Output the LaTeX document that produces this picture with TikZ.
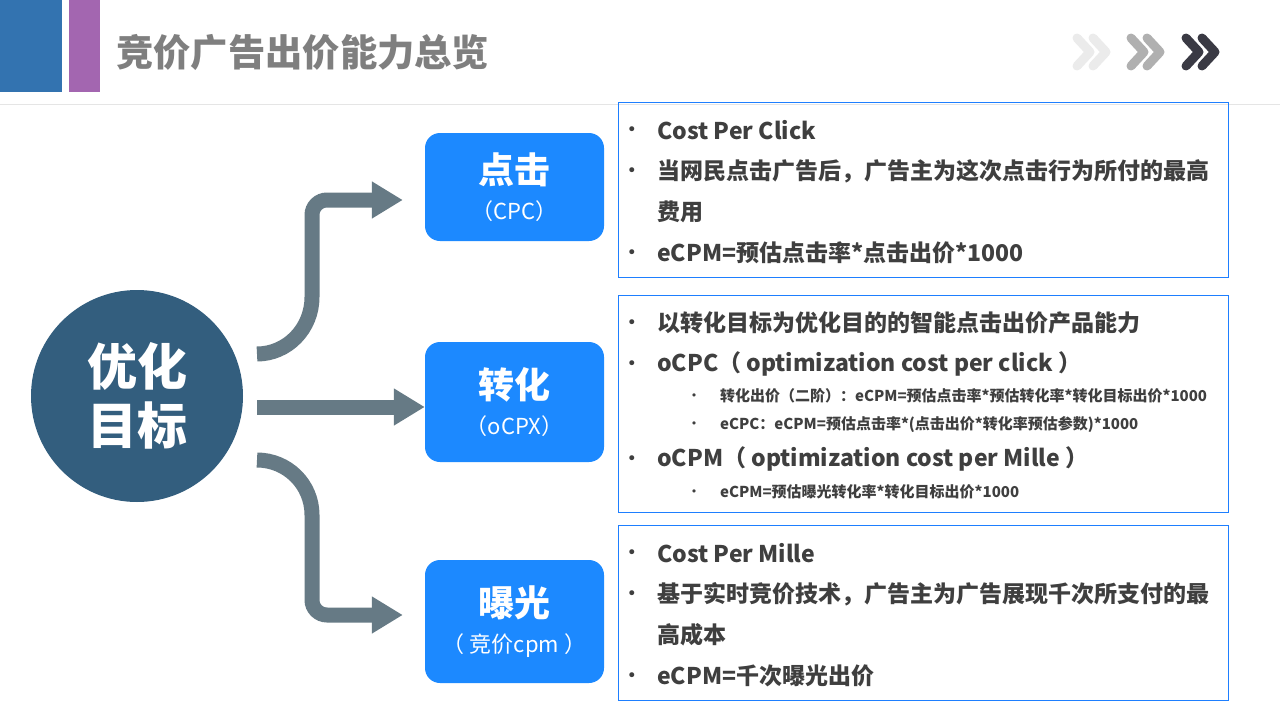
\documentclass[tikz,border=0pt]{standalone}
\usepackage{fontspec}
\setmainfont{Noto Sans CJK SC}
\newfontfamily\bulfont{DejaVu Sans}
\usetikzlibrary{arrows.meta,calc}
\definecolor{hdblue}{HTML}{3373B0}
\definecolor{hdpurple}{HTML}{A366B0}
\definecolor{titlegray}{HTML}{7F7F7F}
\definecolor{circblue}{HTML}{335E7E}
\definecolor{arrgray}{HTML}{667A85}
\definecolor{boxblue}{HTML}{1C89FF}
\definecolor{framblue}{HTML}{1E7FFF}
\definecolor{txtgray}{HTML}{3F3F3F}
\definecolor{chevA}{HTML}{EBEBEB}
\definecolor{chevB}{HTML}{B0B0B0}
\definecolor{chevC}{HTML}{3A3A44}
\begin{document}
\begin{tikzpicture}[x=1pt,y=-1pt,
  conn/.style={draw=arrgray,line width=15,-{Triangle[length=31pt,width=35pt]}},
  catbox/.style={fill=boxblue,rounded corners=15,minimum width=179,minimum height=110,text=white,align=center,font=\bfseries\fontsize{36}{40}\selectfont},
  infobox/.style={draw=framblue,line width=1.2},
  mainline/.style={anchor=west,text=txtgray,font=\bfseries\fontsize{23}{28}\selectfont,inner sep=0},
  subline/.style={anchor=west,text=txtgray,font=\bfseries\fontsize{15}{19}\selectfont,inner sep=0},
  bul/.style={anchor=center,yshift=-1.5,text=txtgray,font=\bulfont\fontsize{17}{18}\selectfont,inner sep=0},
  sbul/.style={anchor=center,yshift=-1,text=txtgray,font=\bulfont\fontsize{11}{12}\selectfont,inner sep=0},
  chev/.style={line width=9,line cap=round,line join=round}
]
\useasboundingbox (0,0) rectangle (1280,720);
\fill[white] (0,0) rectangle (1280,720);
% header
\fill[hdblue] (0,0) rectangle (62,92);
\fill[hdpurple] (69,0) rectangle (100,92);
\node[anchor=west,text=titlegray,font=\bfseries\fontsize{37.3}{40}\selectfont,inner sep=0] (title) at (116,52) {竞价广告出价能力总览};
\draw[black!10,line width=1] (0,104.5) -- (1280,104.5);
% chevrons
\foreach \xx/\cc in {1077/chevA,1131/chevB,1186/chevC}{
  \draw[chev,draw=\cc] (\xx,38) -- (\xx+13,52) -- (\xx,66);
  \draw[chev,draw=\cc] (\xx+16,38) -- (\xx+29,52) -- (\xx+16,66);
}
% circle
\node[circle,fill=circblue,minimum size=212,inner sep=0,text=white,align=center,font=\bfseries\fontsize{50}{59}\selectfont] (circ) at (137,396) {优化\\目标};
% category boxes
\node[catbox,minimum height=108] (b1) at (514.5,187) {点击\\[-4pt]{\mdseries\fontsize{22}{26}\selectfont （CPC）}};
\node[catbox,minimum height=120] (b2) at (514.5,402) {转化\\[-4pt]{\mdseries\fontsize{22}{26}\selectfont （oCPX）}};
\node[catbox,minimum height=123] (b3) at (514.5,621.5) {曝光\\[-4pt]{\mdseries\fontsize{22}{26}\selectfont （ 竞价cpm ）}};
% connectors
\coordinate (s1) at ($(circ.center)+(120,-42)$);
\coordinate (s2) at ($(circ.center)+(120,11)$);
\coordinate (s3) at ($(circ.center)+(120,64)$);
\coordinate (t1) at ($(b1.west)+(-22,13)$);
\coordinate (t3) at ($(b3.west)+(-22,-6.5)$);
\draw[conn] (s1) .. controls (287,354) and (312,329) .. (312,297) [rounded corners=15] -- (312,200) -- (t1);
\draw[conn] (s2) -- (b2.west |- s2);
\draw[conn] (s3) .. controls (287,460) and (312,484) .. (312,515) [rounded corners=15] -- (312,615) -- (t3);
% info boxes
\draw[infobox] (618.5,102.5) rectangle (1228.5,277.5);
\draw[infobox] (618.5,295.5) rectangle (1228.5,512.5);
\draw[infobox] (618.5,525.5) rectangle (1228.5,700.5);
% box A
\node[bul] (ba1) at (632,130) {•};
\node[mainline] (la1) at (657,130) {Cost Per Click};
\node[bul] (ba2) at (632,171) {•};
\node[mainline] (la2) at (657,171) {当网民点击广告后，广告主为这次点击行为所付的最高};
\node[mainline] (la3) at (657,212) {费用};
\node[bul] (ba4) at (632,253) {•};
\node[mainline] (la4) at (657,253) {eCPM=预估点击率*点击出价*1000};
% box B
\node[bul] (bb1) at (632,323) {•};
\node[mainline] (lb1) at (657,323) {以转化目标为优化目的的智能点击出价产品能力};
\node[bul] (bb2) at (632,364) {•};
\node[mainline] (lb2) at (657,364) {oCPC（ optimization cost per click ）};
\node[sbul] (bb3) at (694,396) {•};
\node[subline] (lb3) at (720,396) {转化出价（二阶）：eCPM=预估点击率*预估转化率*转化目标出价*1000};
\node[sbul] (bb4) at (694,424) {•};
\node[subline] (lb4) at (720,424) {eCPC：eCPM=预估点击率*(点击出价*转化率预估参数)*1000};
\node[bul] (bb5) at (632,459) {•};
\node[mainline] (lb5) at (657,459) {oCPM（  optimization cost per Mille ）};
\node[sbul] (bb6) at (694,492) {•};
\node[subline] (lb6) at (720,492) {eCPM=预估曝光转化率*转化目标出价*1000};
% box C
\node[bul] (bc1) at (632,553) {•};
\node[mainline] (lc1) at (657,553) {Cost Per Mille};
\node[bul] (bc2) at (632,594) {•};
\node[mainline] (lc2) at (657,594) {基于实时竞价技术，广告主为广告展现千次所支付的最};
\node[mainline] (lc3) at (657,635) {高成本};
\node[bul] (bc4) at (632,676) {•};
\node[mainline] (lc4) at (657,676) {eCPM=千次曝光出价};
\end{tikzpicture}
\end{document}
